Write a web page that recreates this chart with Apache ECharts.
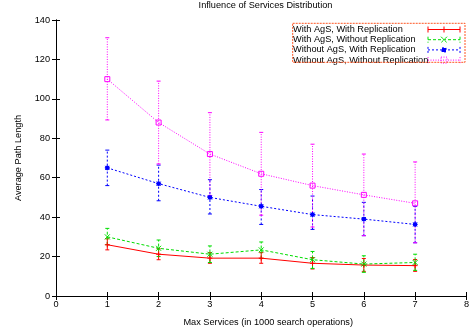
<!DOCTYPE html>
<html>
<head>
<meta charset="utf-8">
<script src="https://cdn.jsdelivr.net/npm/echarts@6/dist/echarts.min.js"></script>
<style>html,body{margin:0;padding:0;background:#fff}#c{width:472px;height:332px}</style>
</head>
<body>
<div id="c"></div>
<script>
var xs = [1, 2, 3, 4, 5, 6, 7];
var names = ['With AgS, With Replication', 'With AgS, Without Replication', 'Without AgS, With Replication', 'Without AgS, Without Replication'];
var redMean = [26, 21.2, 19.2, 19.2, 16.6, 15.7, 15.4];
var redLow = [23.4, 18.4, 16.6, 16.6, 13.7, 12.5, 12.5];
var redHigh = [29, 24, 22, 22, 19.5, 19, 18.5];
var greenMean = [30, 24.2, 21.2, 23.4, 18.4, 16.2, 17];
var greenLow = [26, 20, 17, 19, 14, 12, 13];
var greenHigh = [34.3, 28.4, 25.4, 27.4, 22.6, 20.4, 21.2];
var blueMean = [65, 57, 50, 45.5, 41.3, 39, 36.3];
var blueLow = [56, 48.3, 41.6, 36.3, 33.8, 30.6, 27];
var blueHigh = [74, 66.4, 59, 54, 50.7, 47.5, 45.5];
var magMean = [110, 88, 72, 62, 56, 51.3, 47];
var magLow = [89.3, 67, 51, 41, 35, 30.6, 27];
var magHigh = [131, 109, 93, 83, 77, 72, 68];
var xTicks = [0, 1, 2, 3, 4, 5, 6, 7, 8];
var yTicks = [0, 20, 40, 60, 80, 100, 120, 140];

var FONT = 'Liberation Sans';
var FS = 9.2;
var colors = ['#ff0000', '#00dd00', '#0000ff', '#ff00ff'];
var dashes = ['solid', [3, 2], [2, 2], [1, 1.5]];
var symbols = [
  'path://M0,5L10,5M5,0L5,10',
  'path://M0,0L10,10M10,0L0,10',
  'path://M0,5L10,5M5,0L5,10M1,1L9,9M9,1L1,9M2,2L8,2L8,8L2,8Z',
  'path://M0,0L10,0L10,10L0,10Z'
];
var legendIcons = [
  'path://M0,4L32,4M0,1L0,7M32,1L32,7M16,1L16,7M13,4L19,4',
  'path://M0,4L32,4M0,1L0,7M32,1L32,7M13,1L19,7M19,1L13,7',
  'path://M0,4L32,4M0,1L0,7M32,1L32,7M14,2L18,2L18,6L14,6Z',
  'path://M0,4L32,4M0,1L0,7M32,1L32,7M13,1L19,1L19,7L13,7Z'
];
var means = [redMean, greenMean, blueMean, magMean];
var lows = [redLow, greenLow, blueLow, magLow];
var highs = [redHigh, greenHigh, blueHigh, magHigh];

function pairs(arr) { return xs.map(function (x, i) { return [x, arr[i]]; }); }
function triples(lo, hi) { return xs.map(function (x, i) { return [x, lo[i], hi[i]]; }); }
function fillOf(k) { return k === 2 ? colors[k] : 'rgba(0,0,0,0)'; }

var series = [];
for (var k = 0; k < 4; k++) {
  (function (k) {
    series.push({
      name: 'err' + k,
      type: 'custom',
      data: triples(lows[k], highs[k]),
      encode: { x: 0, y: [1, 2] },
      z: 2 + k,
      silent: true,
      renderItem: function (params, api) {
        var x = api.value(0);
        var p1 = api.coord([x, api.value(1)]);
        var p2 = api.coord([x, api.value(2)]);
        var w = 2;
        var st = { stroke: colors[k], lineWidth: 1, lineDash: dashes[k] === 'solid' ? null : dashes[k] };
        return {
          type: 'group',
          children: [
            { type: 'line', shape: { x1: p1[0], y1: p1[1], x2: p2[0], y2: p2[1] }, style: st },
            { type: 'line', shape: { x1: p1[0] - w, y1: p1[1], x2: p1[0] + w, y2: p1[1] }, style: { stroke: colors[k], lineWidth: 1 } },
            { type: 'line', shape: { x1: p2[0] - w, y1: p2[1], x2: p2[0] + w, y2: p2[1] }, style: { stroke: colors[k], lineWidth: 1 } }
          ]
        };
      }
    });
    series.push({
      name: names[k],
      type: 'line',
      data: pairs(means[k]),
      z: 10 + k,
      symbol: symbols[k],
      symbolSize: 5,
      showSymbol: true,
      silent: true,
      animation: false,
      color: colors[k],
      lineStyle: { color: colors[k], width: 1, type: dashes[k] },
      itemStyle: { color: fillOf(k), borderColor: colors[k], borderWidth: 1 }
    });
  })(k);
}

var legendData = names.map(function (n, k) {
  return {
    name: n,
    icon: legendIcons[k],
    itemStyle: { color: fillOf(k), borderColor: colors[k], borderWidth: 1, borderType: dashes[k] }
  };
});

var chart = echarts.init(document.getElementById('c'), null, { renderer: 'canvas' });
chart.setOption({
  animation: false,
  backgroundColor: '#fff',
  color: colors,
  textStyle: { fontFamily: FONT },
  title: {
    text: 'Influence of Services Distribution',
    left: 265.5, top: 1, textAlign: 'center', padding: 0,
    textStyle: { fontFamily: FONT, fontSize: FS, fontWeight: 'normal', color: '#000' }
  },
  grid: { left: 56, right: 0.5, top: 20, bottom: 33, containLabel: false },
  legend: {
    data: legendData,
    orient: 'vertical',
    align: 'right',
    left: 293, top: 25,
    padding: 0,
    itemWidth: 32, itemHeight: 8, itemGap: 1.2,
    formatter: function (n) { return '{a|' + n + '}'; },
    textStyle: {
      fontFamily: FONT, fontSize: FS, color: '#000',
      rich: { a: { width: 130, align: 'left', fontFamily: FONT, fontSize: FS, color: '#000' } }
    }
  },
  graphic: [{
    type: 'rect', silent: true, z: 100,
    shape: { x: 292.7, y: 23.3, width: 172.3, height: 39 },
    style: { fill: 'none', stroke: '#ff5522', lineWidth: 1, lineDash: [2, 1] }
  }],
  xAxis: [{
    type: 'value', min: 0, max: 8, interval: 1,
    name: 'Max Services (in 1000 search operations)',
    nameLocation: 'middle', nameGap: 22,
    nameTextStyle: { fontFamily: FONT, fontSize: FS, color: '#000', padding: [0, 0, 0, 14] },
    axisLine: { show: true, lineStyle: { color: '#000', width: 1 } },
    axisTick: { show: true, inside: true, length: 4, lineStyle: { color: '#000' } },
    axisLabel: { fontFamily: FONT, fontSize: FS, color: '#000', margin: 4,
      formatter: function (v) { return xTicks.indexOf(v) >= 0 ? String(v) : ''; } },
    splitLine: { show: false }
  }, {
    type: 'value', min: 0, max: 8, interval: 1, position: 'top',
    axisLine: { show: true, lineStyle: { color: '#000', width: 1 } },
    axisTick: { show: true, inside: true, length: 4, lineStyle: { color: '#000' } },
    axisLabel: { show: false }, splitLine: { show: false }
  }],
  yAxis: [{
    type: 'value', min: 0, max: 140, interval: 20,
    name: 'Average Path Length',
    nameLocation: 'middle', nameGap: 33,
    nameTextStyle: { fontFamily: FONT, fontSize: FS, color: '#000' },
    axisLine: { show: true, lineStyle: { color: '#000', width: 1 } },
    axisTick: { show: true, inside: true, length: 4, lineStyle: { color: '#000' } },
    axisLabel: { fontFamily: FONT, fontSize: FS, color: '#000', margin: 6,
      formatter: function (v) { return yTicks.indexOf(v) >= 0 ? String(v) : ''; } },
    splitLine: { show: false }
  }, {
    type: 'value', min: 0, max: 140, interval: 20, position: 'right',
    axisLine: { show: true, lineStyle: { color: '#000', width: 1 } },
    axisTick: { show: true, inside: true, length: 4, lineStyle: { color: '#000' } },
    axisLabel: { show: false }, splitLine: { show: false }
  }],
  series: series
});
</script>
</body>
</html>
